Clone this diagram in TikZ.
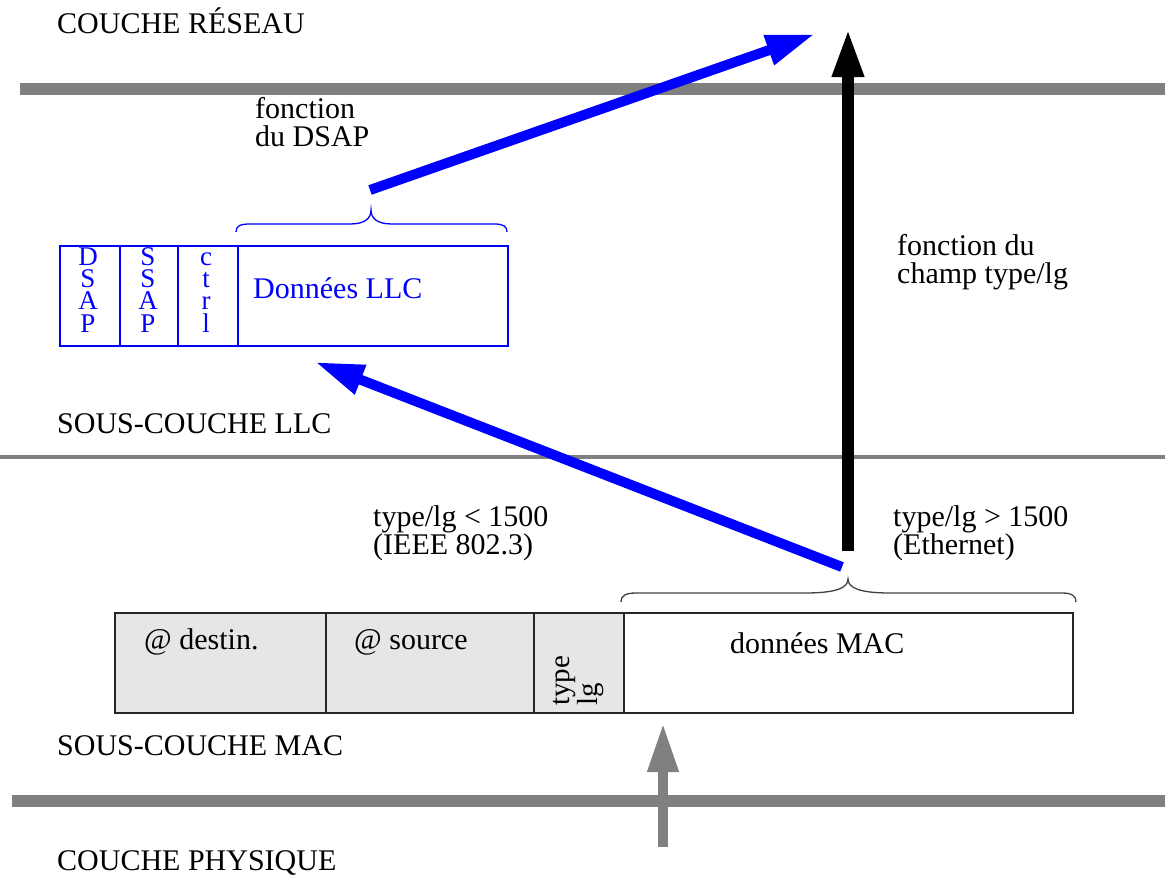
\documentclass[tikz,border=0pt]{standalone}
\usepackage{fontspec}
\setmainfont{Liberation Serif}
\usetikzlibrary{arrows.meta}
\definecolor{layergray}{HTML}{808080}
\definecolor{cellgray}{HTML}{E6E6E6}
\definecolor{pureblue}{RGB}{0,0,255}
\begin{document}
\begin{tikzpicture}[x=1pt,y=-1pt,
  lbl/.style={anchor=base west,inner sep=0,font=\fontsize{30}{28}\selectfont,align=left},
  stack/.style={anchor=base,inner sep=0,font=\fontsize{27}{22.3}\selectfont,align=center,text=pureblue},
  layer/.style={draw=layergray},
  llccell/.style={draw=pureblue,line width=1.8,anchor=north west,inner sep=0,minimum height=100},
  maccell/.style={draw=black!85,line width=1.8,anchor=north west,inner sep=0,minimum height=100},
  bigarrow/.style={-{Triangle[length=49,width=29]}},
  brace/.style={line width=1.3}
]
\useasboundingbox (0,0) rectangle (1165,878);
% layer separators
\draw[layer,line width=12] (20,89) -- (1165,89);
\draw[layer,line width=3.5] (0,457) -- (1165,457);
\draw[layer,line width=12] (12,801) -- (1165,801);
% layer labels
\node[lbl] (reseau) at (57,33) {COUCHE RÉSEAU};
\node[lbl] (llclab) at (57,433) {SOUS-COUCHE LLC};
\node[lbl] (maclab) at (57,755) {SOUS-COUCHE MAC};
\node[lbl] (phylab) at (57,870) {COUCHE PHYSIQUE};
% LLC frame
\node[llccell,minimum width=60] (dsap) at (59,245) {};
\node[llccell,minimum width=58] (ssap) at (119,245) {};
\node[llccell,minimum width=60] (ctrl) at (177,245) {};
\node[llccell,minimum width=270] (llcdata) at (237,245) {};
\node[stack] (dsapt) at (88,332) {D\\S\\A\\P};
\node[stack] (ssapt) at (148,332) {S\\S\\A\\P};
\node[stack] (ctrlt) at (206,332) {c\\t\\r\\l};
\node[lbl,text=pureblue] (llcdatat) at (253,298) {Données LLC};
% MAC frame
\node[maccell,fill=cellgray,minimum width=211] (dest) at (114,612) {};
\node[maccell,fill=cellgray,minimum width=208] (src) at (325,612) {};
\node[maccell,fill=cellgray,minimum width=90] (typ) at (533,612) {};
\node[maccell,minimum width=449] (macdata) at (623,612) {};
\node[lbl] (destt) at (144,649) {@ destin.};
\node[lbl] (srct) at (354,649) {@ source};
\node[rotate=90,anchor=north west,inner sep=0,align=left,font=\fontsize{29}{28}\selectfont] (typt) at (553,706) {type\\lg};
\node[lbl] (macdatat) at (730,653) {données MAC};
% braces
\draw[brace,pureblue] (236,232) .. controls (236,226) and (240,224) .. (250,224) -- (350,224)
  .. controls (364,224) and (371,219) .. (371,210) .. controls (371,219) and (378,224) .. (392,224)
  -- (494,224) .. controls (503,224) and (507,226) .. (507,232);
\draw[brace,black!75] (621,602) .. controls (621,596) and (625,593) .. (636,593) -- (805,593)
  .. controls (836,593) and (848,588) .. (848,579) .. controls (848,588) and (860,593) .. (890,593)
  -- (1062,593) .. controls (1072,593) and (1076,596) .. (1076,602);
% explanatory labels
\node[lbl] (fdsap) at (255,146) {fonction\\du DSAP};
\node[lbl] (fchamp) at (897,283) {fonction du\\champ type/lg};
\node[lbl] (ieee) at (373,554) {type/lg < 1500\\(IEEE 802.3)};
\node[lbl] (eth) at (893,554) {type/lg > 1500\\(Ethernet)};
% arrows
\coordinate (dsapfrom) at (370,190);
\coordinate (reseauA) at (815,34);
\coordinate (macfrom) at (842,567);
\coordinate (llcto) at (315,362);
\coordinate (typefrom) at (848,551);
\coordinate (reseauB) at (848,28);
\coordinate (phyfrom) at (663,847);
\coordinate (macto) at (663,723);
\draw[bigarrow,pureblue,line width=10] (dsapfrom) -- (reseauA);
\draw[bigarrow,pureblue,line width=10] (macfrom) -- (llcto);
\draw[bigarrow,black,line width=12] (typefrom) -- (reseauB);
\draw[bigarrow,layergray,line width=10] (phyfrom) -- (macto);
\end{tikzpicture}
\end{document}
